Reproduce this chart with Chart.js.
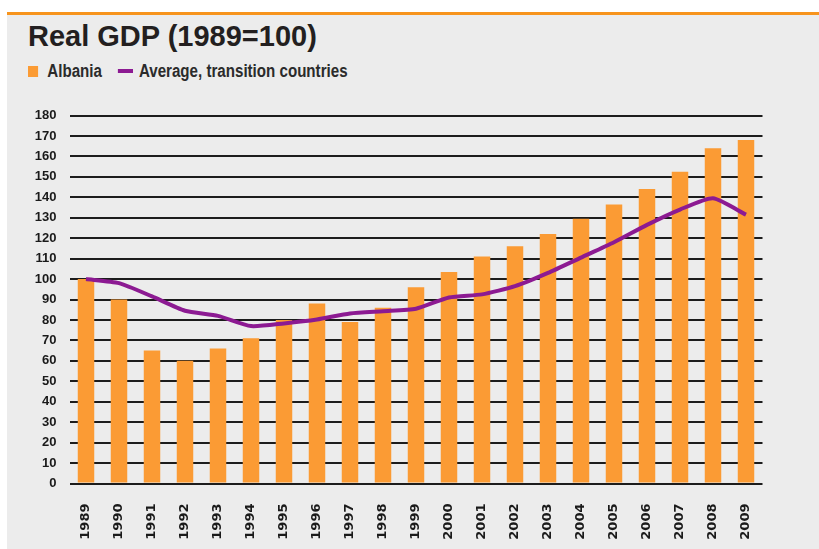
<!DOCTYPE html>
<html>
<head>
<meta charset="utf-8">
<script src="https://cdn.jsdelivr.net/npm/chart.js@4"></script>
<style>
  body { margin: 0; background: #fff; width: 819px; height: 549px; overflow: hidden; position: relative; }
  #panel { position: absolute; left: 7px; top: 12px; width: 812px; height: 534px; background: #ececec; border-top: 3px solid #f7941d; }
  #title { position: absolute; left: 28px; top: 22px; font: bold 29px/29px "Liberation Sans", Arial, sans-serif; color: #231f20; }
  #legend { position: absolute; left: 28px; top: 62px; font: bold 18px/18px "Liberation Sans", Arial, sans-serif; color: #2b2b2b;
    display: flex; align-items: center; white-space: nowrap; transform: scaleX(0.84); transform-origin: 0 0; }
  .sw { display: inline-block; }
  canvas { position: absolute; left: 0; top: 0; }
</style>
</head>
<body>
<div id="panel"></div>
<div id="title">Real GDP (1989=100)</div>
<div id="legend"></div>
<canvas id="grafico" width="819" height="549"></canvas>
<script>
const anos = ["1989","1990","1991","1992","1993","1994","1995","1996","1997","1998","1999",
  "2000","2001","2002","2003","2004","2005","2006","2007","2008","2009"];
const albania = [100, 90, 65, 60, 66, 71, 80, 88, 79, 86, 96,
  103.5, 111, 116, 122, 129.5, 136.5, 144, 152.5, 164, 168];
const media = [100, 98, 91.5, 84.5, 82, 77, 78.3, 80.2, 83.2, 84.3, 85.5,
  91, 92.5, 96.5, 103, 110.5, 118, 126.5, 134, 139.5, 131.5];
const yTicks = [0,10,20,30,40,50,60,70,80,90,100,110,120,130,140,150,160,170,180];

const laranja = "#fb9b34";
const roxo = "#8c1a92";

// legenda em html (comprimida com scaleX)
const leg = document.getElementById("legend");
leg.innerHTML =
  '<span class="sw" style="width:12px;height:11px;background:' + laranja + ';margin-right:11px"></span>' +
  '<span style="margin-right:19px">Albania</span>' +
  '<span class="sw" style="width:18px;height:4px;background:' + roxo + ';margin-right:7px"></span>' +
  '<span>Average, transition countries</span>';

new Chart(document.getElementById("grafico"), {
  data: {
    labels: anos,
    datasets: [
      { type: 'line', label: "Average, transition countries", data: media,
        borderColor: roxo, borderWidth: 4, pointRadius: 0, tension: 0.2, order: 0 },
      { type: 'bar', label: "Albania", data: albania,
        backgroundColor: laranja, barPercentage: 0.5, categoryPercentage: 1, order: 1 }
    ]
  },
  options: {
    responsive: false,
    animation: false,
    layout: { padding: { left: 0, right: 56.5, top: 115.5, bottom: 0 } },
    plugins: { legend: { display: false }, tooltip: { enabled: false } },
    scales: {
      x: {
        grid: { display: false },
        border: { display: false },
        afterFit: s => { s.height = 65.5; },
        ticks: {
          minRotation: 90, maxRotation: 90, padding: 12, autoSkip: false,
          color: "#1a1a1a",
          font: { family: "DejaVu Sans", weight: "bold", size: 13 }
        }
      },
      y: {
        min: 0, max: 180,
        afterFit: s => { s.width = 69.5; },
        afterBuildTicks: s => { s.ticks = yTicks.map(v => ({ value: v })); },
        grid: { color: "#1c1c1c", lineWidth: 2, drawTicks: false },
        border: { display: false },
        ticks: {
          padding: 13, color: "#1a1a1a",
          font: { family: "Liberation Sans", weight: "bold", size: 13 }
        }
      }
    }
  }
});
</script>
</body>
</html>
